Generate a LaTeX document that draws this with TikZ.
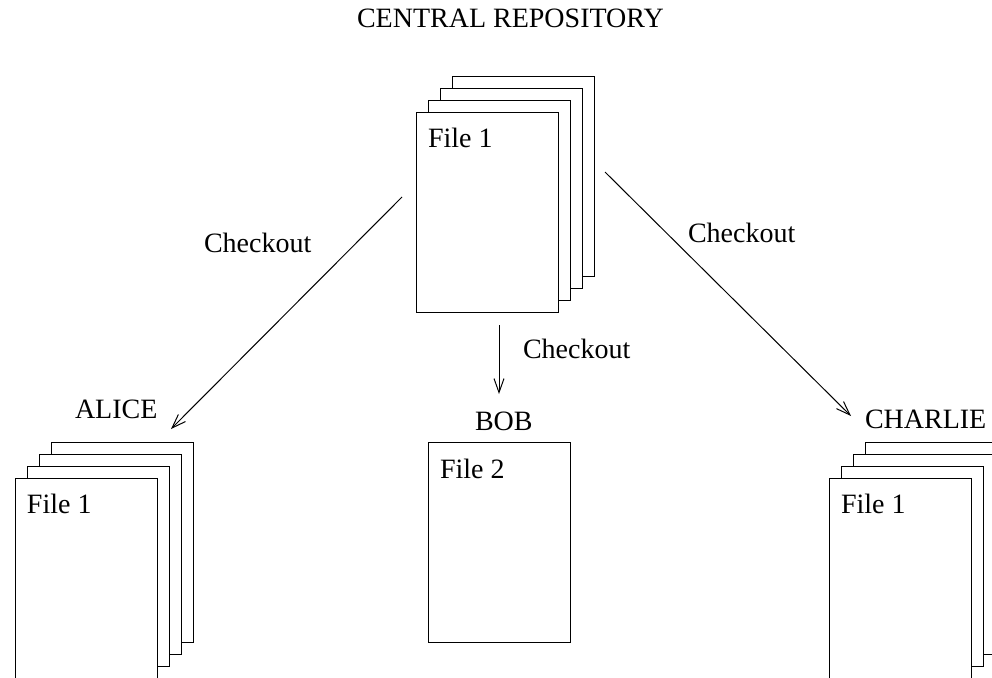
\documentclass[tikz,border=0pt]{standalone}
\usepackage{fontspec}
\setmainfont{Liberation Serif}
\usetikzlibrary{arrows.meta,calc}

\tikzset{
  page/.style={draw, fill=white, line width=1pt, minimum width=142pt,
    minimum height=200pt, anchor=north west, inner sep=0pt, outer sep=0pt},
  txt/.style={font=\fontsize{28}{34}\selectfont, inner sep=0pt, outer sep=0pt},
  conn/.style={line width=1pt, -{Straight Barb[length=14pt,width=10pt]}}
}

\begin{document}
\begin{tikzpicture}[x=1pt,y=-1pt]
  \path[use as bounding box, clip] (0,0) rectangle (992,677);

  % central repository: a stack of four pages
  \node[txt, anchor=base west] (central) at (357,28) {CENTRAL REPOSITORY};
  \node[page] (r4) at (452,76) {};
  \node[page] (r3) at (440,88) {};
  \node[page] (r2) at (428,100) {};
  \node[page] (r1) at (416,112) {};
  \node[txt, anchor=base west] (rfile) at ($(r1.north west)+(12,35)$) {File 1};

  % Alice's working copy
  \node[txt, anchor=base west] (alice) at (75,418) {ALICE};
  \node[page] (a4) at (51,442) {};
  \node[page] (a3) at (39,454) {};
  \node[page] (a2) at (27,466) {};
  \node[page] (a1) at (15,478) {};
  \node[txt, anchor=base west] (afile) at ($(a1.north west)+(12,35)$) {File 1};

  % Bob's working copy
  \node[txt, anchor=base west] (bob) at (475,430) {BOB};
  \node[page] (b1) at (428,442) {};
  \node[txt, anchor=base west] (bfile) at ($(b1.north west)+(12,36)$) {File 2};

  % Charlie's working copy
  \node[txt, anchor=base west] (charlie) at (865,428) {CHARLIE};
  \node[page] (c4) at (865,442) {};
  \node[page] (c3) at (853,454) {};
  \node[page] (c2) at (841,466) {};
  \node[page] (c1) at (829,478) {};
  \node[txt, anchor=base west] (cfile) at ($(c1.north west)+(12,35)$) {File 1};

  % checkout arrows
  \draw[conn] ($(r1.north west)+(-14,85)$) -- ($(a4.north east)+(-22,-13)$);
  \draw[conn] ($(b1.north |- r1.south)+(0,13)$) -- ($(b1.north)+(0,-48)$);
  \draw[conn] ($(r1.north east)+(47,60)$) -- ($(c4.north west)+(-14,-26)$);

  \node[txt, anchor=base west] (co1) at (204,252) {Checkout};
  \node[txt, anchor=base west] (co2) at (523,358) {Checkout};
  \node[txt, anchor=base west] (co3) at (688,242) {Checkout};
\end{tikzpicture}
\end{document}
